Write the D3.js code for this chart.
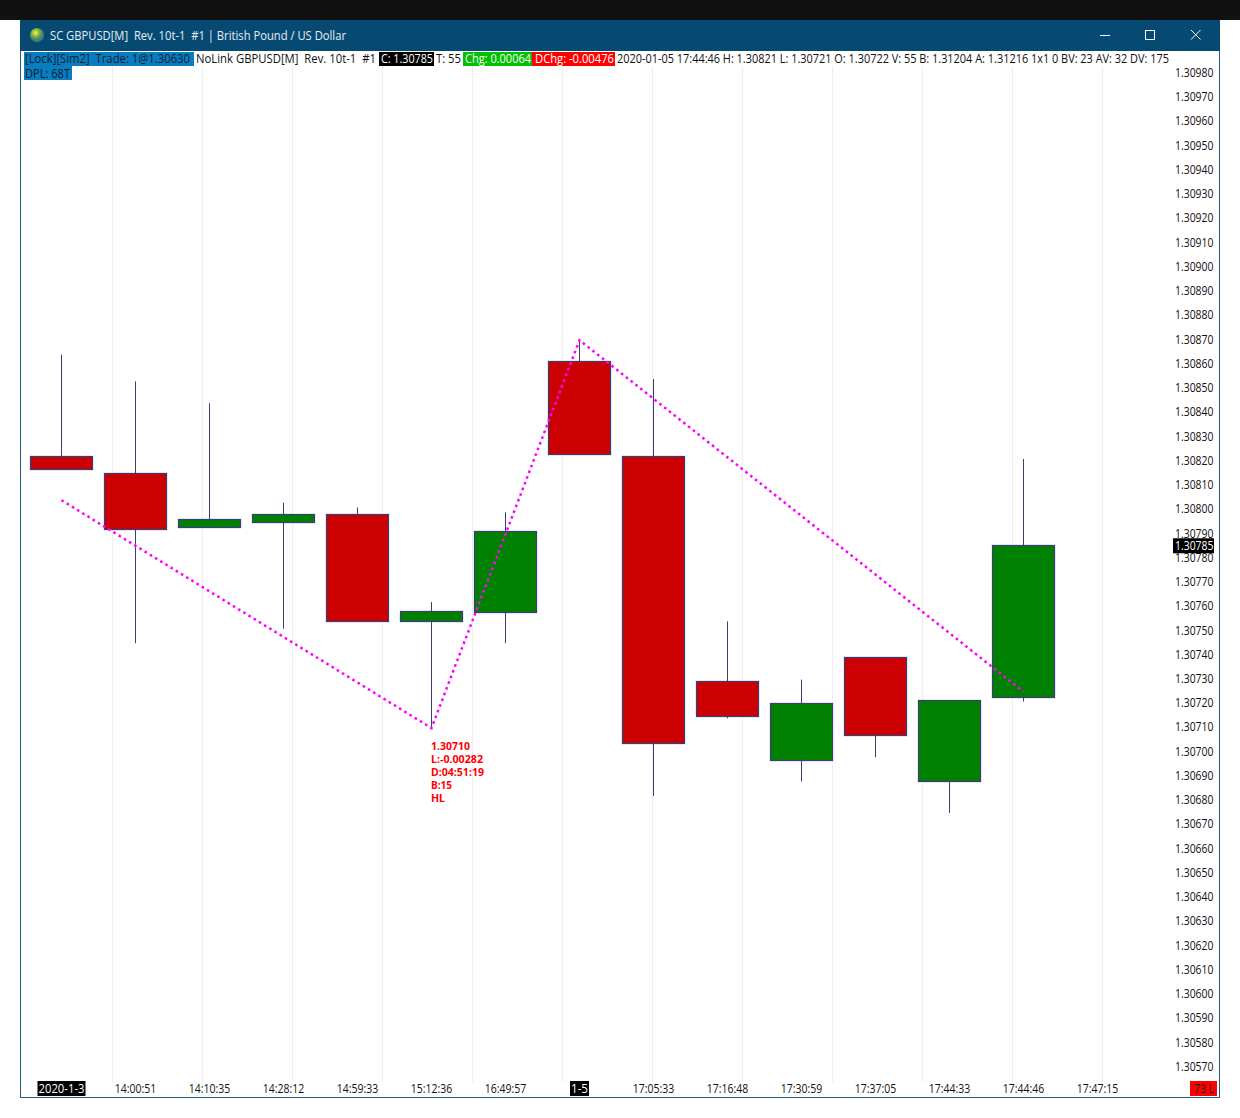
<!DOCTYPE html>
<html><head><meta charset="utf-8">
<script src="https://cdn.jsdelivr.net/npm/d3@7"></script>
<style>html,body{margin:0;padding:0;background:#fff;overflow:hidden}svg{display:block}text{white-space:pre}</style>
</head><body><div id="c"></div>
<script>
const timeLabels=["2020-1-3","14:00:51","14:10:35","14:28:12","14:59:33","15:12:36","16:49:57","1-5","17:05:33","17:16:48","17:30:59","17:37:05","17:44:33","17:44:46","17:47:15"];
const opens =[1.30822,1.30815,1.30793,1.30795,1.30798,1.30754,1.30758,1.30861,1.30822,1.30729,1.30697,1.30739,1.30688,1.30723];
const closes=[1.30817,1.30792,1.30796,1.30798,1.30754,1.30758,1.30791,1.30823,1.30704,1.30715,1.30720,1.30707,1.30721,1.30785];
const highs =[1.30864,1.30853,1.30844,1.30803,1.30801,1.30762,1.30799,1.30870,1.30854,1.30754,1.30730,1.30739,1.30721,1.30821];
const lows  =[1.30817,1.30745,1.30793,1.30751,1.30754,1.30710,1.30745,1.30823,1.30682,1.30714,1.30688,1.30698,1.30675,1.30721];
const redFlags=[1,1,0,0,1,0,0,1,1,1,0,1,0,0];
const zigIndex=[0,5,7,13];
const zigPrice=[1.30804,1.30710,1.30870,1.30725];
const zigNotes=["1.30710","L:-0.00282","D:04:51:19","B:15","HL"];
const priceTicks=[];
for(let k=130570;k<=130980;k+=10)priceTicks.push(k/100000);
const titleText="SC GBPUSD[M]  Rev. 10t-1  #1 | British Pound / US Dollar";
const headerTexts=["[Lock][Sim2]  Trade: 1@1.30630","NoLink GBPUSD[M]  Rev. 10t-1  #1","C: 1.30785","T: 55","Chg: 0.00064","DChg: -0.00476","2020-01-05 17:44:46 H: 1.30821 L: 1.30721 O: 1.30722 V: 55 B: 1.31204 A: 1.31216 1x1 0 BV: 23 AV: 32 DV: 175"];
const dplText="DPL: 68T", lastPrice=1.30785, lastLabel="1.30785", cornerLabel="73 L";

// layout for the header strip: [bgX0,bgX1,textX0,textX1,bg,fg]
const headerLayout=[[24,194,25,190,"#0a7cc0","#0d2233"],[194,379,196,376,null,"#111"],[379,434,381,433,"#000","#fff"],[434,463,436,461,null,"#111"],[463,532,465,531,"#00c000","#fff"],[532,615,535,614,"#ff0000","#fff"],[615,1170,617,1169,null,"#111"]];
const UI="'Open Sans','Noto Sans',sans-serif";
const svg=d3.select("#c").append("svg").attr("width",1240).attr("height",1118);
svg.append("rect").attr("width",1240).attr("height",1118).attr("fill","#fff");
svg.append("rect").attr("width",1240).attr("height",20).attr("fill","#111");
svg.append("rect").attr("x",20.5).attr("y",20.5).attr("width",1199).attr("height",1077).attr("fill","#fff").attr("stroke","#1f5a85");
svg.append("rect").attr("x",20).attr("y",20).attr("width",1200).attr("height",31).attr("fill","#064a73");

const defs=svg.append("defs");
const g=defs.append("radialGradient").attr("id","globe").attr("cx","40%").attr("cy","35%");
g.append("stop").attr("offset","0%").attr("stop-color","#e8f07a");
g.append("stop").attr("offset","60%").attr("stop-color","#7fae2e");
g.append("stop").attr("offset","100%").attr("stop-color","#3f7f7f");
svg.append("circle").attr("cx",37).attr("cy",35).attr("r",7).attr("fill","url(#globe)");

function fit(sel,w,size,family,weight){
  return sel.attr("textLength",w).attr("lengthAdjust","spacingAndGlyphs").attr("font-size",size).attr("font-family",family).attr("font-weight",weight||400);
}
fit(svg.append("text").attr("x",50).attr("y",40).attr("fill","#e8eef3").text(titleText),296,12.5,UI);
// window controls
const ctl=svg.append("g").attr("stroke","#fff").attr("fill","none").attr("stroke-width",1);
ctl.append("line").attr("x1",1100).attr("x2",1110).attr("y1",35.5).attr("y2",35.5);
ctl.append("rect").attr("x",1145.5).attr("y",30.5).attr("width",9).attr("height",9);
ctl.append("path").attr("d","M1191 30L1200.5 39.5M1200.5 30L1191 39.5");

// scales
const y=d3.scaleLinear().domain([1.30570,1.30980]).range([1067.5,73.5]);
const x=d3.scaleLinear().domain([0,14]).range([61,1097]);
const gridX=d3.scaleLinear().domain([0,11]).range([112,1102]);

// grid
svg.append("g").selectAll("line").data(d3.range(12)).join("line")
 .attr("x1",d=>gridX(d)+.5).attr("x2",d=>gridX(d)+.5).attr("y1",66).attr("y2",1082)
 .attr("stroke","#eeeeee");

// price axis
const yAxis=d3.axisRight(y).tickValues(priceTicks).tickFormat(d3.format(".5f")).tickSize(0).tickPadding(0);
const ya=svg.append("g").attr("transform","translate(1213.5,0)").call(yAxis);
ya.select(".domain").remove();
ya.selectAll("text").attr("x",0).attr("text-anchor","end").attr("fill","#111").attr("dy",".24em");
ya.selectAll("text").each(function(){fit(d3.select(this),38.5,12,UI);});

// candles
const candles=d3.zip(opens,closes,highs,lows,redFlags).map((d,i)=>({i,o:d[0],c:d[1],h:d[2],l:d[3],red:d[4]}));
const stroke="#3a3d78", bw=62;
const bodyTop=d=>Math.round(y(Math.max(d.o,d.c)))-.5;
const bodyBot=d=>Math.round(y(Math.min(d.o,d.c)))+.5;
const cg=svg.append("g").selectAll("g").data(candles).join("g");
cg.append("line").attr("x1",d=>x(d.i)+.5).attr("x2",d=>x(d.i)+.5).attr("y1",d=>y(d.h)).attr("y2",d=>y(d.l)).attr("stroke",stroke);
cg.append("rect").attr("x",d=>x(d.i)-bw/2+.5)
  .attr("y",bodyTop).attr("width",bw)
  .attr("height",d=>bodyBot(d)-bodyTop(d))
  .attr("fill",d=>d.red?"#cc0000":"#008000").attr("stroke",stroke).attr("stroke-width",1.25);

// zigzag
const line=d3.line().x(d=>x(d[0])+.5).y(d=>y(d[1]));
svg.append("path").datum(d3.zip(zigIndex,zigPrice)).attr("d",line).attr("fill","none")
 .attr("stroke","#ff00ff").attr("stroke-width",2.5).attr("stroke-dasharray","2.6 3.5");
const noteW=[39,52,53,21,14];
svg.append("g").selectAll("text").data(zigNotes).join("text")
 .attr("x",x(5)).attr("y",(d,i)=>750+i*13).attr("fill","#ff0000").text(d=>d)
 .each(function(d,i){fit(d3.select(this),noteW[i],10.5,"'Noto Sans',sans-serif",700);});

// header strip (drawn above grid)
const bandH=svg.append("g");
bandH.append("rect").attr("x",21).attr("y",51).attr("width",1198).attr("height",15).attr("fill","#fff");
headerTexts.forEach((t,i)=>{
  const L=headerLayout[i];
  if(L[4])bandH.append("rect").attr("x",L[0]).attr("y",52).attr("width",L[1]-L[0]).attr("height",14).attr("fill",L[4]);
  fit(bandH.append("text").attr("x",L[2]).attr("y",63).attr("fill",L[5]).text(t),L[3]-L[2],12,UI);
});
bandH.append("rect").attr("x",24).attr("y",66).attr("width",48).attr("height",14).attr("fill","#0a7cc0");
fit(bandH.append("text").attr("x",25).attr("y",78).attr("fill","#0d2233").text(dplText),45,12,UI);

// last price tag
const ly=y(lastPrice);
svg.append("rect").attr("x",1173).attr("y",ly-8).attr("width",41).attr("height",15).attr("fill","#000");
fit(svg.append("text").attr("x",1175).attr("y",ly+3.5).attr("fill","#fff").text(lastLabel),38.5,12,UI);

// time axis
const xAxis=d3.axisBottom(x).tickValues(d3.range(timeLabels.length)).tickFormat(i=>timeLabels[i]).tickSize(0).tickPadding(0);
const xa=svg.append("g").attr("transform","translate(0,1088.5)").call(xAxis);
xa.select(".domain").remove();
xa.selectAll("text").attr("y",0).attr("dy",".35em").attr("fill","#111").attr("text-anchor","middle");
xa.selectAll("text").each(function(i){
  const s=d3.select(this), t=timeLabels[i], w=t==="2020-1-3"?46:t==="1-5"?17:41.5;
  fit(s,w,12,UI);
  if(t==="2020-1-3"||t==="1-5"){
    s.attr("fill","#fff");
    d3.select(this.parentNode).insert("rect","text").attr("x",-w/2-1).attr("y",-7.5).attr("width",w+2).attr("height",15).attr("fill","#000");
  }
});
svg.append("rect").attr("x",1190).attr("y",1081).attr("width",27).attr("height",15).attr("fill","#ff0000");
fit(svg.append("text").attr("x",1194).attr("y",1093).attr("fill","#222").text(cornerLabel),20,12,UI);
</script></body></html>
